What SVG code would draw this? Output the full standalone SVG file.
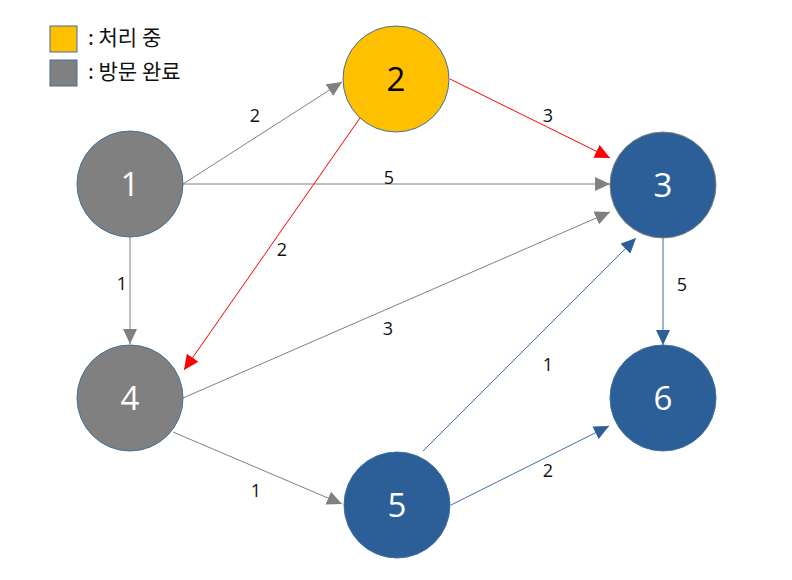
<svg xmlns="http://www.w3.org/2000/svg" width="792" height="580" viewBox="0 0 792 580">
<style>
.num{font-family:"Open Sans","DejaVu Sans",sans-serif;font-size:33px;text-anchor:middle}
.lbl{font-family:"Open Sans","DejaVu Sans",sans-serif;font-size:18px;fill:#111;text-anchor:middle}
.leg{font-family:"Noto Sans CJK KR","Noto Sans",sans-serif;font-size:21px;fill:#111}
.g{stroke:#808080;stroke-width:1;fill:none}
.r{stroke:#FF0000;stroke-width:1;fill:none}
.b{stroke:#3A6EAA;stroke-width:1;fill:none}
.gray{fill:#808080;stroke:#41719C;stroke-width:1}
.blue{fill:#2C5F98;stroke:#41719C;stroke-width:1}
.yel{fill:#FFC000;stroke:#41719C;stroke-width:1}
</style>
<defs>
<marker id="ag" markerUnits="userSpaceOnUse" markerWidth="16" markerHeight="14" refX="15" refY="7" orient="auto"><path d="M0,0 L15,7 L0,14 z" fill="#808080"/></marker>
<marker id="ar" markerUnits="userSpaceOnUse" markerWidth="16" markerHeight="14" refX="15" refY="7" orient="auto"><path d="M0,0 L15,7 L0,14 z" fill="#FF0000"/></marker>
<marker id="ab" markerUnits="userSpaceOnUse" markerWidth="16" markerHeight="14" refX="15" refY="7" orient="auto"><path d="M0,0 L15,7 L0,14 z" fill="#2C5F98"/></marker>
</defs>
<rect width="792" height="580" fill="#FFFFFF"/>
<g id="legend">
<rect x="50" y="26" width="27" height="26" class="yel"/>
<text x="88" y="45" class="leg">: 처리 중</text>
<rect x="50" y="60" width="27" height="26" class="gray"/>
<text x="88" y="79" class="leg">: 방문 완료</text>
</g>
<g id="connectors">
<line x1="183" y1="184" x2="342" y2="82" class="g" marker-end="url(#ag)"/>
<line x1="183" y1="184" x2="610" y2="184" class="g" marker-end="url(#ag)"/>
<line x1="130" y1="237" x2="130" y2="344" class="g" marker-end="url(#ag)"/>
<line x1="450" y1="79" x2="610" y2="158" class="r" marker-end="url(#ar)"/>
<line x1="360" y1="118" x2="184" y2="370" class="r" marker-end="url(#ar)"/>
<line x1="183" y1="398" x2="610" y2="212" class="g" marker-end="url(#ag)"/>
<line x1="173" y1="432" x2="342" y2="504" class="g" marker-end="url(#ag)"/>
<line x1="423" y1="451" x2="636" y2="238" class="b" marker-end="url(#ab)"/>
<line x1="451" y1="505" x2="609" y2="426" class="b" marker-end="url(#ab)"/>
<line x1="663" y1="238" x2="663" y2="345" class="b" marker-end="url(#ab)"/>
<text x="255" y="122" class="lbl">2</text>
<text x="389" y="184" class="lbl">5</text>
<text x="122" y="290" class="lbl">1</text>
<text x="548" y="122" class="lbl">3</text>
<text x="282" y="256" class="lbl">2</text>
<text x="388" y="335" class="lbl">3</text>
<text x="256" y="497" class="lbl">1</text>
<text x="548" y="371" class="lbl">1</text>
<text x="548" y="477" class="lbl">2</text>
<text x="682" y="291" class="lbl">5</text>
</g>
<g id="node1"><circle cx="130" cy="184" r="53" class="gray"/><text x="130" y="196" class="num" fill="#FFFFFF">1</text></g>
<g id="node2"><circle cx="396" cy="79" r="53" class="yel"/><text x="396" y="91" class="num" fill="#000000">2</text></g>
<g id="node3"><circle cx="663" cy="185" r="53" class="blue" style="stroke:#808080"/><text x="663" y="197" class="num" fill="#FFFFFF">3</text></g>
<g id="node4"><circle cx="130" cy="398" r="53" class="gray"/><text x="130" y="410" class="num" fill="#FFFFFF">4</text></g>
<g id="node5"><circle cx="397" cy="505" r="53" class="blue"/><text x="397" y="517" class="num" fill="#FFFFFF">5</text></g>
<g id="node6"><circle cx="663" cy="398" r="53" class="blue"/><text x="663" y="410" class="num" fill="#FFFFFF">6</text></g>
</svg>
